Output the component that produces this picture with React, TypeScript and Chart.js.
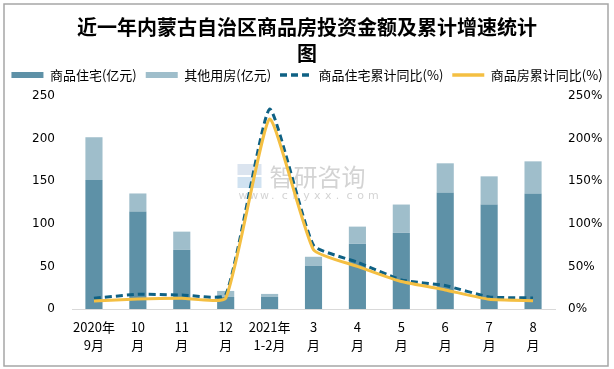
import React, { useEffect, useRef } from "react";
import { Chart, registerables } from "chart.js";

Chart.register(...registerables);

const categories: string[][] = [
  ["2020年", "9月"],
  ["10", "月"],
  ["11", "月"],
  ["12", "月"],
  ["2021年", "1-2月"],
  ["3", "月"],
  ["4", "月"],
  ["5", "月"],
  ["6", "月"],
  ["7", "月"],
  ["8", "月"],
];

const residential: number[] = [151.3, 114.4, 69.6, 14.2, 14.2, 50.7, 76.7, 89.6, 136.8, 122.6, 135.6];
const otherUse: number[] = [50.3, 21.2, 21.2, 7.0, 3.5, 10.6, 20.0, 33.0, 34.2, 33.1, 37.7];
const residentialGrowth: number[] = [12.6, 17.3, 16.5, 16.5, 234.7, 74.7, 55.0, 34.2, 27.5, 14.2, 13.0];
const propertyGrowth: number[] = [9.4, 11.8, 12.6, 12.6, 222.9, 69.6, 50.0, 32.2, 22.4, 11.4, 9.8];

const leftTicks: number[] = [0, 50, 100, 150, 200, 250];
const rightTicks: number[] = [0, 50, 100, 150, 200, 250];

const titleLines: string[] = ["近一年内蒙古自治区商品房投资金额及累计增速统计", "图"];
const seriesNames: string[] = ["商品住宅(亿元)", "其他用房(亿元)", "商品住宅累计同比(%)", "商品房累计同比(%)"];

const CJK = '"Noto Sans CJK SC", "Noto Sans", sans-serif';

const decorPlugin = {
  id: "decor",
  beforeLayout(chart: any) {
    const lg = chart.legend;
    if (lg && !lg.__patched) {
      const orig = lg.fit.bind(lg);
      lg.fit = function () {
        const mw = this.maxWidth;
        this.maxWidth = 4000;
        orig();
        this.maxWidth = mw;
        this.width = mw;
        this.height += 4.5;
      };
      lg.__patched = true;
    }
  },
  beforeDatasetsDraw(chart: any) {
    const ctx = chart.ctx;
    const a = chart.chartArea;
    const cx = (a.left + a.right) / 2;
    ctx.save();
    ctx.fillStyle = "rgba(190,205,225,0.55)";
    ctx.fillRect(cx - 76, a.top + 68, 24, 11);
    ctx.fillStyle = "rgba(150,190,225,0.45)";
    ctx.fillRect(cx - 76, a.top + 81, 24, 11);
    ctx.fillStyle = "rgba(175,175,175,0.55)";
    ctx.font = `24px ${CJK}`;
    ctx.textAlign = "left";
    ctx.textBaseline = "middle";
    ctx.fillText("智研咨询", cx - 44, a.top + 81);
    ctx.font = `11px "DejaVu Sans", sans-serif`;
    const s = "www.chyxx.com";
    for (let i = 0; i < s.length; i++) {
      ctx.fillText(s[i], cx - 75 + i * 10.8, a.top + 100);
    }
    ctx.restore();
  },
  afterDraw(chart: any) {
    const ctx = chart.ctx;
    ctx.save();
    ctx.strokeStyle = "#a6a6a6";
    ctx.lineWidth = 1.5;
    ctx.strokeRect(4, 4, chart.width - 10, chart.height - 7);
    ctx.restore();
  },
};

export default function App() {
  const ref = useRef<HTMLCanvasElement | null>(null);

  useEffect(() => {
    document.body.style.margin = "0";
    const canvas = ref.current;
    if (!canvas) return;
    const chart = new Chart(canvas, {
      type: "bar",
      data: {
        labels: categories,
        datasets: [
          {
            type: "bar",
            label: seriesNames[0],
            data: residential,
            backgroundColor: "#5e91a7",
            borderWidth: 0,
            yAxisID: "y",
            stack: "s",
            order: 2,
            barPercentage: 0.39,
            categoryPercentage: 1,
          },
          {
            type: "bar",
            label: seriesNames[1],
            data: otherUse,
            backgroundColor: "#9fbecb",
            borderWidth: 0,
            yAxisID: "y",
            stack: "s",
            order: 2,
            barPercentage: 0.39,
            categoryPercentage: 1,
          },
          {
            type: "line",
            label: seriesNames[2],
            data: residentialGrowth,
            borderColor: "#0f6184",
            backgroundColor: "#0f6184",
            borderWidth: 3,
            borderDash: [7, 4],
            pointRadius: 0,
            tension: 0.15,
            yAxisID: "y1",
            order: 1,
            fill: false,
          } as any,
          {
            type: "line",
            label: seriesNames[3],
            data: propertyGrowth,
            borderColor: "#f4bf42",
            backgroundColor: "#f4bf42",
            borderWidth: 3,
            pointRadius: 0,
            tension: 0.15,
            yAxisID: "y1",
            order: 0,
            fill: false,
          } as any,
        ],
      },
      options: {
        animation: false,
        responsive: false,
        maintainAspectRatio: false,
        layout: { padding: 0 },
        plugins: {
          title: {
            display: true,
            text: titleLines,
            color: "#000000",
            font: { family: CJK, size: 20, weight: "bold", lineHeight: "26px" },
            padding: { top: 14, bottom: -6.5 },
          },
          legend: {
            display: true,
            position: "top",
            labels: {
              usePointStyle: true,
              pointStyleWidth: 32,
              boxHeight: 6,
              padding: 9,
              color: "#000000",
              font: { family: CJK, size: 13 },
              sort: (a: any, b: any) => a.datasetIndex - b.datasetIndex,
              generateLabels: (chart: any) => {
                return chart.data.datasets.map((ds: any, i: number) => {
                  const isLine = ds.type === "line";
                  return {
                    text: ds.label,
                    datasetIndex: i,
                    fillStyle: isLine ? ds.borderColor : ds.backgroundColor,
                    strokeStyle: isLine ? ds.borderColor : ds.backgroundColor,
                    lineWidth: isLine ? 3.5 : 0,
                    lineDash: ds.borderDash || [],
                    pointStyle: isLine ? "line" : "rect",
                    hidden: false,
                    fontColor: "#000000",
                  };
                });
              },
            },
          },
          tooltip: { enabled: false },
        },
        scales: {
          x: {
            stacked: true,
            grid: { display: false, drawTicks: false },
            border: { display: true, color: "#d9d9d9", width: 1 },
            ticks: {
              color: "#000000",
              font: { family: CJK, size: 13, lineHeight: "18px" },
              padding: 9.5,
              maxRotation: 0,
              autoSkip: false,
            },
            afterFit: (s: any) => {
              s.height = 60;
            },
          },
          y: {
            type: "linear",
            position: "left",
            stacked: true,
            min: 0,
            max: 250,
            grid: { display: false, drawTicks: false },
            border: { display: false },
            afterBuildTicks: (s: any) => {
              s.ticks = leftTicks.map((v) => ({ value: v }));
            },
            ticks: {
              color: "#000000",
              font: { family: '"DejaVu Sans", sans-serif', size: 12 },
              padding: 17,
            },
            afterFit: (s: any) => {
              s.width = 72;
            },
          },
          y1: {
            type: "linear",
            position: "right",
            stacked: false,
            min: 0,
            max: 250,
            grid: { display: false, drawTicks: false },
            border: { display: false },
            afterBuildTicks: (s: any) => {
              s.ticks = rightTicks.map((v) => ({ value: v }));
            },
            ticks: {
              color: "#000000",
              font: { family: '"DejaVu Sans", sans-serif', size: 12 },
              padding: 13,
              callback: (v: any) => `${v}%`,
            },
            afterFit: (s: any) => {
              s.width = 59;
            },
          },
        },
      },
      plugins: [decorPlugin],
    } as any);
    return () => chart.destroy();
  }, []);

  return (
    <div style={{ width: 614, height: 369, background: "#ffffff" }}>
      <canvas ref={ref} width={614} height={369} style={{ display: "block" }} />
    </div>
  );
}
